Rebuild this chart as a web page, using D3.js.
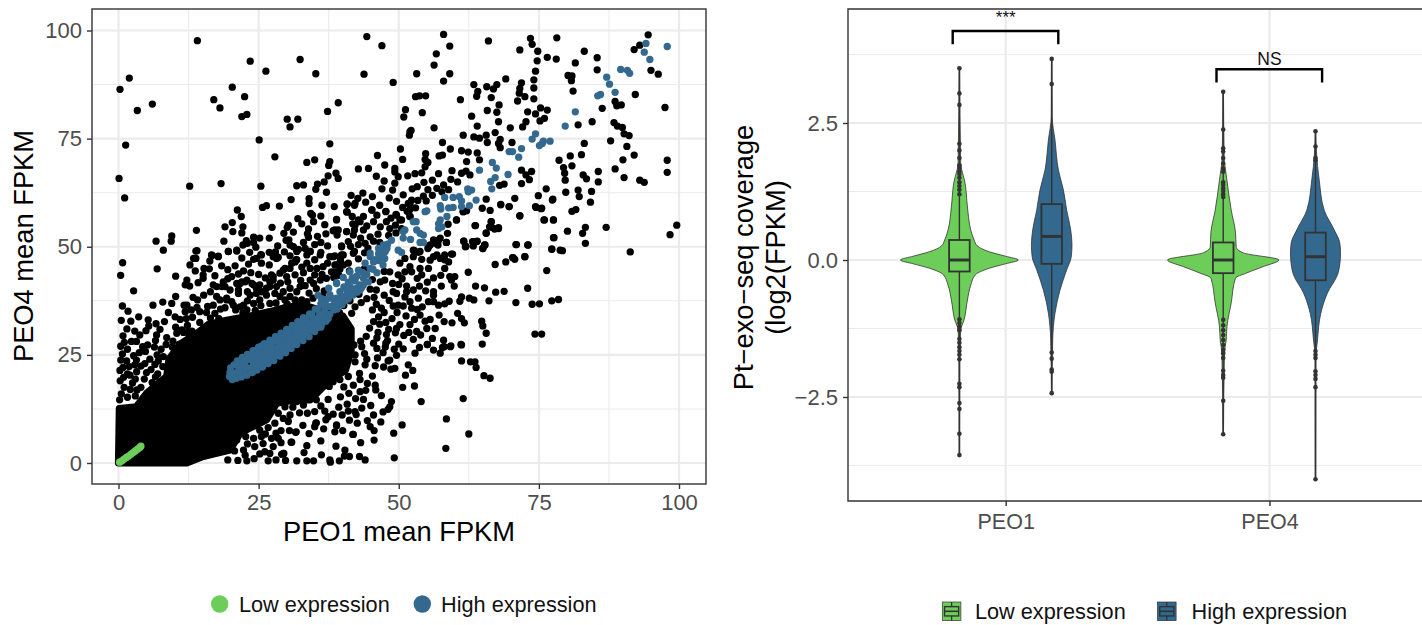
<!DOCTYPE html>
<html><head><meta charset="utf-8">
<script src="https://cdn.jsdelivr.net/npm/d3@7"></script>
<style>html,body{margin:0;padding:0;background:#fff;overflow:hidden}svg{display:block}text{font-family:"Liberation Sans",Arial,sans-serif}</style>
</head><body><svg id="c" width="1422" height="625"></svg>
<script>
const seriesNames=["Low expression","High expression"];
const groups=["PEO1","PEO4"];
const colorLow="#6CCE59", colorHigh="#33688F";
const scatterTicks=[0,25,50,75,100];
const scatterMinor=[12.5,37.5,62.5,87.5];
const violinTicks=[-2.5,0,2.5];
const violinMinor=[-3.75,-1.25,1.25,3.75];

// Solid region of the scatter where single points cannot be told apart: outline
const denseOutline=[[0,0],[0.15,12.6],[3.2,13],[5,16.1],[8.6,20],[9,24],[11,27.5],[14,30],[16,32],[19.3,33],[23.5,34],[27,35],[30,36],[33,36.5],[37,35],[40,34],[41.5,31],[41.5,26],[40.5,21.5],[37.1,18.4],[34.2,14.6],[31.5,14.6],[28.2,13.8],[26.4,10],[21.7,6.9],[19.9,3],[15.1,1.5],[12.2,0]];

const blackPoints=[
[44.3,98.6],[47,96.5],[58,99.1],[59.1,96.4],[56.7,94.6],[56.3,92],[43.8,89.9],[53.2,90],[59.1,90],[58,88.3],[49,88],[66,97.6],[73.5,98.2],[73.8,96.8],[78.2,98.3],[71.6,95.5],[74.8,95.2],[74.7,93],[76.5,93.8],[78.1,93.4],[83.1,95.2],[85.4,93.7],[81.5,92.5],[85.4,90.9],[74.4,90.6],[74.1,88.6],[74.1,86.7],[74.1,84.2],[69.1,88.8],[71.9,87.9],[71.6,86.6],[71.5,85.5],[72.5,84.7],[71.2,83.7],[67.5,87.5],[66.9,86.5],[65.7,87],[63.4,87.5],[64.1,85.9],[63.9,84.8],[66.5,84.5],[61,84],[54.8,84.9],[53.7,84.9],[53,84.7],[51.2,81.7],[50.9,80],[54.2,81],[67.9,82.8],[65.8,81.5],[67.5,81.1],[67.8,78.9],[63,80.2],[64,77.9],[56.3,77.5],[69.9,77.5],[72.1,77.7],[72.7,78.9],[73,81.2],[74.4,80.7],[75.3,82.1],[76.5,81.6],[76,79.7],[75.2,79.1],[80.2,89.6],[80.9,89.5],[80.8,88.4],[81.1,86],[82,78.2],[84.5,78.9],[86.3,82],[88.6,83.6],[88.9,82.6],[89.7,82.8],[92.2,85.2],[97.5,82.2],[94.5,99],[92,95.6],[93,96.6],[95,90.8],[96.3,89.9],[88.4,78.7],[89,77.9],[89.9,77.6],[90.2,76.1],[91.1,75.7],[87.8,74.5],[90.7,73.2],[92,71.2],[90,70.1],[88.6,68],[90.2,66],[93,65.4],[93.8,64.9],[97.9,70],[97.9,67.2],[99.6,55],[98.4,52.8],[91.3,48.8],[87,54.5],[83.3,54.5],[82.8,53.1],[83.3,50.8],[80.1,53.6],[77.7,52.1],[77.3,49.5],[79.2,49.1],[73.1,50.4],[71,50.5],[72.5,47.7],[70.4,47.5],[85.6,67.4],[85.6,65],[84.4,62.8],[84.2,60.3],[83.5,65.7],[82.9,66.6],[82,63.1],[82.2,61.6],[79.8,62.6],[79.7,65.4],[79.6,67],[79.4,68.3],[78.6,70],[80.9,68.7],[80.6,71],[82.6,71.3],[83.1,73.9],[81.6,58.6],[80.9,58.2],[77.5,61],[76.3,63.4],[74.9,61.8],[74.5,59.1],[75.4,58.8],[76,56.2],[77.6,56.2],[71.6,57.1],[70.7,61.2],[69.7,59.3],[68.2,59.7],[66.3,58.4],[64.9,58.9],[65.6,61],[68.8,64.5],[68,64.2],[71.9,64.6],[73.3,65.5],[72.7,66.6],[73.7,67.4],[71.9,67.7],[63.7,54.9],[66.5,55.8],[66.2,54.6],[67.1,54.1],[67.8,54.4],[65.6,53.2],[61.6,51.3],[63.2,51.2],[64,51.3],[62,50.1],[63.3,50.2],[65.4,50.4],[65,49.6],
[61.5,75.8],[63.4,75.4],[64.4,75.1],[65.6,75.8],[65.8,74.1],[67.2,76.4],[68.1,74.8],[67.8,73.9],[68.1,72.9],[70.2,74.1],[57.8,74.1],[59.2,72.6],[57.2,71],[57.8,71.2],[61.2,72.2],[62.4,71.9],[64,71.7],[64.4,70.1],[62.1,69.7],[52,76.6],[52.2,76.9],[51.9,75.8],[50.3,72.6],[46.2,71.1],[50.7,70.2],[47.5,68.9],[44.6,68.1],[49.3,68.1],[49.3,67.3],[49.9,66.2],[51.6,66.4],[54.8,71.5],[54.7,70.2],[55.2,69.5],[54.7,68.5],[54.1,67.1],[57.1,66.9],[59.5,67.6],[61.2,67],[62,67.5],[62.7,66.6],[56,65.4],[60.5,65],[58,64.3],[47.4,65.2],[47,63.4],[48.9,63.1],[48.3,61.3],[43.6,62.4],[52.4,63.4],[53.3,63.9],[54.4,61.7],[56,61.9],[56.8,63.5],[57.7,62.7],[52.3,60.8],[51.7,60],[52,58.6],[45.2,58.5],[47.7,58.2],[49.6,57.3],[48.6,56.6],[50.5,56.2],[52,57],[61.5,58.1],[62.1,58.3],[60.3,56.2],[58.8,55.2],[58.7,53.1],[58.5,51],[56.2,51.6],[57.4,52],[55.3,50],[57,50.4],[52.8,49.1],[53.8,48.9],[59.6,48.3],
[14.07,97.65],[1.93,89],[0.27,86.4],[3.36,81.5],[6.04,83],[23.5,92.9],[32.4,93.3],[26.3,90.6],[35.2,90],[20.3,86.9],[17,84],[18.1,82.1],[22.5,84.7],[22.9,80.6],[22,80.1],[39.2,83.3],[37.3,81.3],[30.1,79.5],[32,79.5],[30.6,77.7],[25.1,74.7],[1.28,73.5],[37.7,73.8],[27.9,70.8],[35,70.1],[33.6,69.5],[37.7,69.7],[37.5,68.8],[0.1,65.8],[12.7,64],[18.3,64.6],[25.4,64],[1.1,61.3],[42.8,68],[38.8,67],[37.4,66.4],[39.2,65.8],[36.7,65],[35.5,64.5],[35.2,63.3],[31.8,64.1],[33,64.3],[37.1,62.6],[41.5,61.9],[30.8,60.9],[34,61.1],[34,60],[40.8,59.8],[42.1,59.6],[38.5,59.3],[36.3,59.6],[28.7,59.4],[26.4,59.5],[25.7,59.1],[21.2,58.5],[21.9,57],[34.3,57.7],[34.6,57.3],[40.8,58],[38.9,56.2],[32,56.5],[32.7,55.3],[30.3,55],[30.1,54.5],[20.3,55.6],[19,54.6],[22.2,54.6],[20.4,53.5],[22,53.2],[13.9,53.8],[27.4,54.5],[29.5,53.1],[31.2,53.4],[33.9,54.1],[33.7,53],[33.9,52.2],[35.5,52.4],[38.3,53.7],[39.2,53.9],[39,52.7],[40.7,53.5],[42.1,53.9],[41.9,52.7],[41.8,55.3],[42.8,56.2],[9.5,52.5],[9.4,51.3],[6.7,51.3],[8,49.2],[18.8,51.3],[19.6,48.9],[21.1,49.2],[14,49.1],[16.7,48],[17.8,47.8],[22.8,51.4],[22.2,50.4],[23,50.8],[24.1,52.2],[25.2,52],[26.9,52],[24.1,51],[24.5,49.9],[25.4,48.2],[28.4,50.2],[30.4,51.6],[29.9,51.5],[30.6,50.4],[36.1,51],[39.8,50.2],[32.1,49.4],[33.3,49.6],[34.2,48.9],[36.1,48.7],[42.1,48.9],[38.6,47.9],[40.1,48.1],[13.4,47.3],[24.1,47.1],[28.2,47.3],[31.7,47],
[0.74,46.3],[0.38,43.4],[6.9,44.9],[10.2,43.2],[2.7,39.8],[10.2,38.5],[0.7,36.3],[1.7,35.1],[6.15,36.5],[5.3,33.1],[6.7,32.2],[5.4,31.7],[6.8,29.6],[6.6,28.3],[8.6,29],[3.2,28.1],[2.3,28.1],[1.04,27.9],[1.6,26.3],[4.8,25.8],[8,24.6],[1.45,23.6],[3.2,23.8],[5.6,24],[9.5,23.8],[4.7,23],[6.5,22.8],[0.26,21.4],[2.05,20.3],[3.24,21.1],[5,20.9],[10.1,33.8],[11,33.2],[12.3,31.8],[10.2,31.4],[10.4,30],[11.7,36.5],[12.2,36.5],[11.9,35],[13,35.4],[14,36],[14.5,35],[13.3,38.3],[14.1,37.7],[12.75,45.8],[13.8,47.3],[13.8,49],[15.25,45],[15.1,43.5],[15.1,42.7],[14.2,41.7],[12.2,42.3],[12.7,40.9],[11.9,41.2],[16.6,48.1],[17.8,47.7],[18.4,45.6],[19.6,48.9],[21.1,49],[20.2,43.1],[21.4,43.7],[18.7,41.9],[17.5,40.8],[18.4,40.8],[22.6,41.9],[21.7,41.5],[21.4,39.2],[21.4,40],[17.5,38.5],[18.1,37.7],[19.3,38.1],[20.2,37.3],[16.9,36.5],[17.2,34.6],[23.2,46],[24.6,47.3],[25.5,48.1],[25.5,46.2],[26.9,45.8],[28.5,47.6],[31.5,46.5],[29.4,44.6],[31.5,43.5],[30,43.1],[27.3,43.5],[27.6,42.3],[24.1,41.2],[26.4,40.4],
[40.8,59.9],[42.2,60],[40.7,58.1],[38.9,56.3],[45.2,58.5],[47.7,58.1],[49.5,57.5],[52,60],[52,57],[43.7,57],[43.1,55.8],[45.5,55.8],[46.7,54.6],[48.4,54.2],[50.2,56.2],[50.5,54.2],[38.6,53.9],[40.7,53.5],[42.2,55],[43.7,53.9],[44.9,52.3],[39.8,50],[44,50.8],[46.6,51],[38.3,47.7],[39.8,48.1],[41.9,48.5],[38.6,45.8],[38.6,44.2],[40.1,45.8],
[61.5,58.1],[60.3,56.2],[63.6,54.9],[66.5,55.8],[65.6,53.1],[67.8,54.2],[66.6,54.5],[68.2,59.8],[69.7,59.3],[71.6,57.2],[74.4,59.3],[75.5,58.9],[75.9,56.2],[77.6,56.2],[77.4,60.8],[77.6,52.1],[77.3,49.4],[70.9,50.5],[73,50.4],[67.2,45.9],[69.1,46.5],[70.3,47.5],[70.7,47.1],[72.5,47.7],[76.4,44.5],[62.4,44.1],[78.8,49.2],[61.6,51.3],[61.9,50],[63.2,51.2],[63.9,51.2],[65.3,50.4],[65,49.6],[59.4,48.3],[58.5,51],[56.5,50.8],[57.1,51.5],[55.6,50.4],[55.2,49.6],[56.8,48.1],[58.2,48.1],[58.2,47],[58.9,46.5],[55.6,46.9],[56.2,47.7],[58.2,45],[57.4,47.3],[52.6,49.2],[53.5,48.7],[54.1,47.1],[52.6,47.7],[51.1,47.3],[50.2,46.2],[52,45.4],[52.3,44.2],[51.1,44.2],[53.8,45],[55.3,45],[54.1,43.5],[56.2,42.8],[59.1,43.1],[60,43.1],[59.4,42.3],[59.9,40.9],[63.7,40.9],[65.3,40.5],[67.3,39.5],[68.8,39.7],[73,40.4],[48.4,44.2],[49.9,43.5],[46.7,41.9],[47.5,42.3],[46,40],[49,39.6],[49.6,39.2],[51.4,40.9],[51.4,39.6],[53.7,40.9],[52.6,40],[56.2,39.6],[56.2,38.8],[51.1,38.4],[53.5,38.1],[52,37.3],[50.8,36.3],[49.9,36.5],[49,36.3],[55.3,37.3],[56.2,37.3],[57.1,36.5],[58.2,36.8],[59,37.4],[61.2,38.4],[60.9,37.4],[62.6,38.1],[63.4,37.7],[66.1,37.5],[70.9,37.1],[73.8,36.7],[75.1,36.8],[77.3,37.5],[78.5,37.8],[52.3,35.8],[53.3,35.5],[53.8,34.2],[51.3,34],[47.4,34.8],[45.5,32.7],[46.6,32.1],[41.6,34.6],[55.6,33.2],[58.1,32.7],[59.5,32.4],[60.5,34.6],[61.2,33.4],[61.7,32.4],[64.8,32.8],[65,31.7],[65.6,30],[74.3,29.8],[75.5,29.8],[52,32],[50.2,32],[49.6,31.1],[47.8,29.7],[49.4,30.1],[53.2,30.4],[53.9,29.6],[55,31.1],[56.5,31.1],[56,28.8],[55.1,27.4],[58,28.4],[58.1,26.9],[59.2,26.9],[61.1,27.4],[64.9,27.5],
[45.5,27.7],[46.1,26.5],[47.2,25.5],[43.4,26.9],[42,27.3],[55.1,27.4],[56.2,26.1],[57.4,25.4],[57.8,26.7],[59.3,27.1],[61.2,27.3],[52.9,25.4],[48.4,23.8],[48.1,23.6],[51.7,22.7],[52.5,21.4],[51.2,20.3],[49.3,21.9],[48.6,21.7],[61.2,23.6],[62.8,23.4],[63.6,23.4],[63.8,22.1],[65.2,20.2],[66.3,19.6],[50.7,17.5],[52.8,17.8],[54,14.2],[61.5,14.9],[58.5,10.2],[62.5,6.7],[58.4,3.4],[49.1,6.9],[45.6,5.3],[49.2,1.2],[44.3,24],[44,22.7],[42.2,25],[42.2,23.4],[40.7,25],[39.2,23.8],[37.1,23.4],[45.3,20.1],[43,20.7],[43.1,19.3],[41,20],[39.5,19.3],[38.3,18.8],[45.8,18],[45.9,16.9],[41.9,18],[43.1,16.5],[41.1,16.1],[39.6,15.3],[37.4,14.7],[37.6,17.7],[46.9,15.6],[48.7,14.2],[48.4,13],[48.1,12.4],[45,13.3],[40.8,13.6],[41,12],[42.2,11.9],[42.4,11.2],[45.5,11.1],[44.4,9.8],[44.9,8.4],[45.6,7.5],[32.3,11.6],[33.7,11.5],[38.3,11.3],[37.4,10.7],[37,10],[35.3,9.3],[35,8.4],[38.9,8.6],[38.6,7.2],[41.8,6.6],[31.7,7.2],[30.8,4.8],[33.6,4],[33.1,2.4],[33.6,0.5],[31.8,0.5],[37.7,0.7],[37.8,0.2],[40.4,3],[40.3,1.6],[41.2,1.5],[43,1.5],[44,0.7],[24.2,1],[26.7,0.5],[28.1,0.7],[29.1,2],[29.5,2.2],[19.5,0.7],[22.6,1.8],[26.1,2.6],[27,2.2],[27.6,3.8],[27.3,5.7],[28.5,5.7],[24.3,3.8],[25.8,4.5],[22.3,3],[21.1,5.3],[18.7,4],[27.9,9.2],[29.4,10.3],[30.6,11.1],[30.3,9.6],[29.7,13],[28.5,11.5],[25.2,7.6],[23.8,8.8],[25.5,6.1],[41.9,6.6],[29.4,2.2],[30.9,4.8],[31.6,7.1],[35.2,9.2],[38.9,8.8],
[28.8,43.9],[29.7,45],[30.9,46.2],[31.8,47],[33.6,46.2],[34.2,45],[35.4,45],[36.5,45.4],[38,44.2],[38.9,45.8],[34.2,42.3],[34.8,41.5],[36,42.3],[37.1,42.7],[32.4,40.8],[31.8,39.6],[30.6,40.4],[29.4,39.6],[28.2,40.8],[27.6,43.1],[27,41.9],[25.2,41.2],[26.1,39.6],[24.6,39.2],[23.5,38.8],[22.3,36.5],[33.6,48.1],[36,48.1],[37.7,47.7],[34.2,48.9],[31.8,48.9],[30.6,45],[27.6,47.7],[33,44],[35,43.5],[32.5,42.2],[36.3,43.6],[44.3,38],[46,36.7],[47.6,26.8],[48,28.3],[50,27.5],[0.3,19],[1,17.5],[0.5,16],[1.6,15.2],[3,15.5],[4,17.5],[2.5,18.5]];

const blackPointsMid=[
[16.9,41.2],[19,40.8],[19.9,40],[21.1,41.5],[22,41.9],[22.9,42.3],[23.8,41.5],[24.6,40.4],[25.5,39.6],[26.4,38.8],[27,40.8],[27.9,39.2],[28.8,38.5],[29.7,37.7],[30.6,38.5],[31.5,37.7],[32.7,37.7],[19.3,37.7],[20.5,36.5],[21.7,36.1],[22.9,35.4],[24.1,36.9],[25.2,37.7],[15.9,36.2],[15.2,38.8],[16.4,39.6],[18.2,35.6],[13.2,33.7],[12.1,33.4],[11.3,30.8],[9.7,28.2],[10.8,27.4],[7.6,26.3],[6.4,26.8],[5.2,27.3],[7.1,23.6],[3.7,25.5],[2.7,24.8],[0.7,25.2],[0.4,23.8],[1.9,22.3],[4,22.4],[5.8,21.6],[7,20.6],[0.9,19.8],[4.6,19.4],[6,18.6],[2.1,17],[3.3,16.9],[0.2,14.6],[4.4,15],
[13.7,44.4],[16.2,44.9],[17.2,43.3],[19.5,44.7],[20.8,45.6],[22.3,44.4],[23.6,44],[25,43.6],[26.2,42.8],[28.9,41.6],[30.2,41.9],[33.3,41],[35.3,40.3],[36.7,39.8],[34,39.3],[36.4,38.6],[23,39.6],[19.5,42.6],[16.3,46.7],[22,47.4],[23.4,48.7],[26.9,48.7],[29.6,48.8],[30.6,47.9],[32.7,45.3],[35,47],[37.3,46.2],[39.6,46.9],[41,46.2],[42.8,47.2],[43.9,48.6],[41.2,44.4],[39.5,44.8],[38.4,42.9],[39.3,43.4],
[44.5,49.7],[42.8,50.5],[41,51.2],[45.5,51.3],[46.3,52.9],[43.2,52],[41.4,50.1],[37.3,50.2],[35,50.5],[33,51],[31.2,50],[28,48.8],[37,53],[36.8,55.1],[34.8,55.8],[36.1,57.1],[44.3,54.8],[41.7,57],[46.1,57.3],[47.8,55.8],[49.4,55],[48.2,52.6],[49.5,53.2],[51.5,58.2],[53,59],[53.4,60.7],[50.7,59.1],[46.6,59.6],[44.1,60.3],[42.7,61.2],[45.3,61.6],[49.6,60.5],[50.8,62],[54.9,60.6],[55.2,63.2],[58.9,63.2],[59.3,65.6],[49.3,64.7],[46,66.3],[52.9,66.9],[54.5,64.9],
[40.2,36.4],[39.4,34.8],[41.3,37.5],[42.9,39],[42.2,36.1],[43.3,37.1],[45.6,38.3],[47.4,38.8],[48.3,37.6],[45.3,35.4],[46.9,35.8],[44.9,40.2],[45.3,42.4],[43.8,44.8],[47.4,44.3],[48.9,41.5],[50,41.3],[50.6,42.6],[46.4,33.8],[44.8,31.2],[46.3,30.2],[47.7,32.5],[48.8,33.4],[49.7,34.8],[48.2,30.9],[50.9,29.5],[51.8,30.2],[46.1,28.9],[44.2,29.3],[47.7,27.7],[49.2,26.3],[50.8,26.4],[52.6,28.6],[53.7,26.7],[49.6,24.9],[46.2,24.3],[47.3,22.2],[45.8,22.5],[43.9,25.3],[43.2,28.2],[54.2,36.1],[54.7,32.8],[57.2,34.2],[52.8,33.2],[53.3,42.7],[55.1,41.8],[57.6,40.9],[57.5,43.4],[54.8,39.8],
[31.8,23.8],[33,22.3],[34.2,23.8],[35.9,25.4],[37.7,26.1],[39.5,25.4],[30,19.2],[31.2,20],[33,19.2],[35.3,20],[36.5,18.4],[32.4,16.1],[34.2,15.3],[35.3,14.6],[31.8,14.2],[29.7,15.3],[31.1,12.9],[33,13.4],[36.1,13.2],[36.8,12],[35,11.9],[39.3,12.9],[39.9,11.1],[43.4,12.7],[43.7,14.7],[42.3,14.9],[44.1,16.8],[44.4,18.4],[40.2,17.6],[42.6,9.2],[41.2,9.9],[40,7.5],[36.6,7.9],[34,6.8],[32.9,8.7],[30.5,7.5],[29,7.5],[28.1,6.9],[26.7,8.2],[26.2,6.7],[24.1,5.7],[22.7,6.1],[23,4.4],[20.7,2.8],[21.3,0.6],[22.9,0.5],[25.2,2.1],[29.8,0.6],[29,4.7],[36.1,5.1],[38.8,3.9],[36.2,1.9],[34.8,0.5],[39.4,0.5],[46.8,9.5],[47.2,11.8],[50.6,8.8],[43.2,4.7],
[0.4,27],[0.8,29.4],[2.9,30.5],[3.8,29.6],[4.9,30.6],[1.5,31],[0.5,33],[2.2,32.8],[3.6,33.8],[7.4,30.9],[8.2,32.7],[8.9,34.8],[9.5,36.9],[7.9,37.2],[4.3,26.9],[6.9,25],[7.9,22.3],[9.3,22],[10.1,26.4],[10.3,24.9],[11.6,30.2],[12.4,30.2],[9.6,26.8],[8.5,27.4],[3,19.4],[5.9,16.6],[7.2,17.9],[8,19],[2.9,22.7],[0.8,22.1],[1.6,20.6],[6.6,19.9],
[15.7,34.8],[16.4,33.5],[19,35.9],[20.9,35.4],[23,37.5],[25.4,36.4],[27,36.9],[28.1,37],[30.1,36.7],[32,36.8],[33.6,37.3],[34.7,38.1],[17.9,33.4],[14.5,32.5],[13.1,30.5],[22.2,34.7],[24.4,35.3]];

const blueCore=[
[19.8,20],[19.9,21],[20,22],[20.3,19.3],[20.6,22.7],[21,19.6],[21,20.9],[21.2,23.6],[21.5,21.9],[21.9,19.9],[22.1,24.4],[22.3,21],[22.5,23],[22.9,20.3],[23,25.1],[23.2,22],[23.5,23.9],[23.9,20.9],[24,26],[24.1,22.9],[24.4,24.9],[24.7,21.5],[25,26.8],[25.1,23.6],[25.4,25.6],[25.7,22.2],[26,27.6],[26.1,24.4],[26.4,26.2],[26.7,23],[27,28.4],[27.2,25.1],[27.4,27],[27.7,23.7],[28,29.2],[28.2,26],[28.5,27.9],[28.8,24.7],[29,30],[29.2,26.8],[29.5,28.8],[29.8,25.5],[30,30.9],[30.3,27.6],[30.5,29.7],[30.8,26.5],[31,31.8],[31.2,28.5],[31.6,30.6],[31.8,27.4],[32,32.7],[32.3,29.3],[32.6,31.5],[32.9,28.3],[33,33.6],[33.4,30.2],[33.7,32.4],[34,29.2],[34.1,34.5],[34.4,31.1],[34.8,33.3],[35,30.4],[35.1,35.6],[35.5,32],[35.9,34.3],[36.1,31.4],[36.1,36.8],[36.6,33],[36.8,35.4],[37,32.8],[37.1,37.8],[37.5,40.4],[37.7,34.4],[35.6,38.8],[38,38.1],[38.9,41.5],[36.2,38],[38.4,35.4],
[20.5,20.5],[21.5,20.4],[21.6,23.1],[22.6,22],[22.6,24],[23.6,21.4],[23.6,25],[24.6,24],[24.5,22.2],[24.5,26],[25.5,24.6],[25.5,27],[25.4,22.9],[26.5,25.2],[26.5,27.3],[26.4,23.7],[27.5,25.8],[27.5,28.2],[27.4,24.4],[28.5,26.6],[28.5,29],[28.4,25.1],[29.5,27.5],[29.5,29.9],[29.4,26],[30.5,28.4],[30.5,30.6],[30.4,26.9],[31.5,29.3],[31.5,31.6],[31.4,27.8],[32.5,30.3],[32.5,32.5],[32.4,28.8],[33.5,31.3],[33.5,33.4],[33.4,29.7],[34.5,32.2],[34.5,34.4],[34.4,30.7],[35.5,33.4],[35.5,35.6],[35.3,31.2],[36.5,34.5],[36.5,36.6],[36.3,32.2],[37.4,36.2],[37.7,38.9],[37.4,33.4],
[38.2,36.4],[38.6,37.2],[39,35.6],[39.4,37.8],[39.9,36.6],[40.2,38.5],[40.5,37.6],[40.9,39.2],[41,38],[41.5,39.7],[41.8,38.8],[42.3,40.3],[42.6,39.5],[43,41.2],[43.1,40],[43.7,41.2],[40.2,40.7],[41,41.8],[41.7,42.8],[42.5,43.2],[43.6,44],[44.3,43.6],[44.9,45],[45.4,44.8],[45.8,47],[46.4,46.8],[46.4,48.4],[46.8,48.6],[47.6,48.9],[48,50.6],[47.2,49.2]];
const blueSparse=[[97.9,96.3],[94.1,97],[93.8,95],[94.8,93.3],[89.6,91],[90.8,90.8],[91.2,90.1],[87.1,89.2],[87.6,87.6],[88.6,85.7],[86,85.2],[85.5,84.9],[81.5,81.2],[79.7,77.9],[74.4,76.1],[73.8,74.9],[77,74.4],[75.8,74.4],[75.6,73.9],[75.1,73.4],[71.9,72.7],[69.7,72],[70.3,72],[71.4,70.7],[66.7,69.5],[67.4,68.2],[64.4,67.7],[69.5,66.7],[67.2,66],[66.4,65.1],[66.6,63.4],[62.3,63.4],[63,63.1],[62.4,62.7],[63.8,60.8],[60.8,61.6],[59.7,61.4],[58.2,61.4],[61.2,60.6],[61.2,59.3],[62.6,59.5],[59.7,59.1],[58.9,59],[57.4,59.5],[57.5,58.7],[55,58.3],[54.7,58.1],[58.6,57],[57.4,56.2],[57.1,55.3],[57.7,54.6],[57.1,54.2],[53.1,55.8],[52.6,55.8],[50.8,53.5],[51.1,53.9],[53.2,53.9],[53.8,53.1],[54.4,52.7],[50.8,52],[52.1,51.7],[53.8,51],[54.4,51],[48.7,51.5],[47.3,50.4],[46.4,49.6],[47.9,49.6],[49.9,49.2],[50.5,48.7],[44.9,47.7],[47,47.7],[44,46.2],[45.5,46.5],[47.2,45.8],[46.1,44],[42.8,44.6],[41.3,44.2],[40.1,42.9],[43.7,42.7],[44.6,41.9],[38.9,41.7],[42.2,42.1],[41.3,40.8],[43.4,40.6],[39.5,39.6],[40.7,40],[38.9,38.1],[39.8,38.4],[38.6,35.8],[39.2,36.9],[41.9,40],[44.9,48.5],[46.9,47.7],[47.5,47.3]];
const greenPoints=[[0.2,0.2],[0.6,0.5],[1,0.9],[1.4,1.3],[1.8,1.6],[2.2,2],[2.6,2.4],[3,2.8],[3.4,3.2],[3.8,3.6],[4,3.9]];

// violin outlines: [log2 FPKM, relative density]
const vLowA=[[3.5,0.005],[1.77,0.022],[1.4,0.097],[0.97,0.136],[0.55,0.192],[0.365,0.249],[0.255,0.305],[0.15,0.508],[0.07,0.78],[0,1],[-0.07,0.78],[-0.15,0.508],[-0.27,0.271],[-0.46,0.192],[-0.73,0.136],[-1.09,0.08],[-1.28,0.022],[-1.73,0.008],[-3.56,0.005]];
const vHighA=[[3.67,0.005],[2.61,0.008],[2.19,0.056],[1.64,0.114],[1.28,0.198],[0.91,0.254],[0.55,0.322],[0.27,0.344],[0.05,0.33],[-0.18,0.254],[-0.55,0.14],[-0.97,0.056],[-1.46,0.017],[-2.43,0.005]];
const vLowB=[[3.07,0.005],[1.89,0.017],[1.46,0.063],[0.91,0.136],[0.51,0.208],[0.24,0.22],[0.13,0.339],[0,0.944],[-0.12,0.678],[-0.24,0.39],[-0.33,0.208],[-0.78,0.136],[-1.22,0.063],[-1.46,0.051],[-1.7,0.022],[-3.18,0.005]];
const vHighB=[[2.35,0.005],[1.95,0.017],[1.46,0.063],[0.91,0.147],[0.55,0.317],[0.31,0.412],[0.13,0.424],[0,0.419],[-0.27,0.373],[-0.6,0.203],[-0.97,0.09],[-1.46,0.034],[-1.77,0.008],[-4,0.005]];

// box stats: [Q1, median, Q3]
const boxLowA=[-0.21,0,0.365], boxHighA=[-0.07,0.43,1.02], boxLowB=[-0.24,0,0.32], boxHighB=[-0.37,0.06,0.5];
const outLowA=[3.5,3.04,2.83,2.12,2,1.86,1.73,1.68,1.62,1.57,1.5,1.42,1.35,1.28,1.2,-1.08,-1.15,-1.22,-1.28,-1.44,-1.51,-1.59,-1.66,-1.73,-1.81,-2.26,-2.32,-2.61,-2.72,-3.17,-3.56];
const outHighA=[3.67,3.21,-1.69,-1.8,-2,-2.04,-2.43];
const outLowB=[3.07,2.38,2.04,1.98,1.86,1.76,1.67,1.61,1.42,1.37,1.31,1.26,1.2,1.15,-1.09,-1.19,-1.28,-1.37,-1.46,-1.55,-1.64,-1.7,-1.79,-2.02,-2.1,-2.15,-2.57,-3.18];
const outHighB=[2.35,2.07,1.86,1.82,-1.66,-1.73,-1.79,-2.03,-2.1,-2.17,-2.32,-4];

const violins=[
 {g:"PEO1",s:0,shape:vLowA,box:boxLowA,out:outLowA},
 {g:"PEO1",s:1,shape:vHighA,box:boxHighA,out:outHighA},
 {g:"PEO4",s:0,shape:vLowB,box:boxLowB,out:outLowB},
 {g:"PEO4",s:1,shape:vHighB,box:boxHighB,out:outHighB}];
const signifLabels=["***","NS"];
const signifLevels=[4.18,3.48];
const signifDrop=0.243;

const svg=d3.select("#c");
const INK="#333333", TICKTXT="#4D4D4D", GRID="#EBEBEB";
const fill=[colorLow,colorHigh];

/* ---------- left panel ---------- */
const L={l:92,r:706,t:9,b:484};
const x=d3.scaleLinear().domain([0,100]).range([118.5,679]);
const y=d3.scaleLinear().domain([0,100]).range([463,30.5]);
const gL=svg.append("g");
gL.selectAll(".mnx").data(scatterMinor).join("line").attr("x1",d=>x(d)).attr("x2",d=>x(d)).attr("y1",L.t).attr("y2",L.b).attr("stroke",GRID).attr("stroke-width",1.1);
gL.selectAll(".mny").data(scatterMinor).join("line").attr("y1",d=>y(d)).attr("y2",d=>y(d)).attr("x1",L.l).attr("x2",L.r).attr("stroke",GRID).attr("stroke-width",1.1);
gL.selectAll(".mjx").data(scatterTicks).join("line").attr("x1",d=>x(d)).attr("x2",d=>x(d)).attr("y1",L.t).attr("y2",L.b).attr("stroke",GRID).attr("stroke-width",2.2);
gL.selectAll(".mjy").data(scatterTicks).join("line").attr("y1",d=>y(d)).attr("y2",d=>y(d)).attr("x1",L.l).attr("x2",L.r).attr("stroke",GRID).attr("stroke-width",2.2);
gL.append("path").datum(denseOutline).attr("d",d3.line().x(d=>x(d[0])).y(d=>y(d[1])).curve(d3.curveLinearClosed)).attr("fill","#000").attr("stroke","#000").attr("stroke-width",7.2).attr("stroke-linejoin","round");
const R0=3.65;
gL.selectAll(".b").data(blackPoints.concat(blackPointsMid)).join("circle").attr("cx",d=>x(d[0])).attr("cy",d=>y(d[1])).attr("r",R0).attr("fill","#000");
gL.selectAll(".h").data(blueCore.concat(blueSparse)).join("circle").attr("cx",d=>x(d[0])).attr("cy",d=>y(d[1])).attr("r",R0).attr("fill",colorHigh);
gL.selectAll(".g").data(greenPoints).join("circle").attr("cx",d=>x(d[0])).attr("cy",d=>y(d[1])).attr("r",R0).attr("fill",colorLow);
gL.append("rect").attr("x",L.l).attr("y",L.t).attr("width",L.r-L.l).attr("height",L.b-L.t).attr("fill","none").attr("stroke",INK).attr("stroke-width",1.4);

function styleAxis(g,size){
  g.select(".domain").remove();
  g.selectAll(".tick line").attr("stroke",INK).attr("stroke-width",1.4);
  g.selectAll(".tick text").attr("fill",TICKTXT).style("font-size",size+"px").style("font-family",'"Liberation Sans",Arial,sans-serif');
}
svg.append("g").attr("transform",`translate(0,${L.b})`).call(d3.axisBottom(x).tickValues(scatterTicks).tickSize(5).tickPadding(5)).call(styleAxis,22);
svg.append("g").attr("transform",`translate(${L.l},0)`).call(d3.axisLeft(y).tickValues(scatterTicks).tickSize(5).tickPadding(5)).call(styleAxis,22);
svg.append("text").attr("x",399).attr("y",541).attr("text-anchor","middle").style("font-size","27.3px").text("PEO1 mean FPKM");
svg.append("text").attr("transform","translate(33,246) rotate(-90)").attr("text-anchor","middle").style("font-size","27.3px").text("PEO4 mean FPKM");

/* ---------- right panel ---------- */
const P={l:848,r:1422,t:9,b:501};
const gx=d3.scalePoint().domain(groups).range([1005.7,1269.5]);
const dodge=d3.scaleOrdinal().domain([0,1]).range([-46.3,46]);
const vy=d3.scaleLinear().domain([-2.5,2.5]).range([397,123]);
const gR=svg.append("g");
gR.selectAll(".a").data(violinMinor).join("line").attr("y1",d=>vy(d)).attr("y2",d=>vy(d)).attr("x1",P.l).attr("x2",P.r).attr("stroke",GRID).attr("stroke-width",1.1);
gR.selectAll(".b").data(violinTicks).join("line").attr("y1",d=>vy(d)).attr("y2",d=>vy(d)).attr("x1",P.l).attr("x2",P.r).attr("stroke",GRID).attr("stroke-width",2.2);
gR.selectAll(".c").data(groups).join("line").attr("x1",d=>gx(d)).attr("x2",d=>gx(d)).attr("y1",P.t).attr("y2",P.b).attr("stroke",GRID).attr("stroke-width",2.2);
const widthScale=d3.scaleLinear().domain([0,1]).range([0,59]);
const boxHalf=10.3;
violins.forEach(v=>{
  const cx=gx(v.g)+dodge(v.s);
  const g=gR.append("g");
  const area=d3.area().y(d=>vy(d[0])).x0(d=>cx-widthScale(d[1])).x1(d=>cx+widthScale(d[1])).curve(d3.curveMonotoneY);
  g.append("path").datum(v.shape.slice().reverse()).attr("d",area).attr("fill",fill[v.s]).attr("stroke",INK).attr("stroke-width",0.8);
  const top=v.shape[0][0], bot=v.shape[v.shape.length-1][0];
  g.append("line").attr("x1",cx).attr("x2",cx).attr("y1",vy(top)).attr("y2",vy(bot)).attr("stroke",INK).attr("stroke-width",1.4);
  g.selectAll("circle").data(v.out).join("circle").attr("cx",cx).attr("cy",d=>vy(d)).attr("r",2.3).attr("fill",INK);
  g.append("rect").attr("x",cx-boxHalf).attr("width",2*boxHalf).attr("y",vy(v.box[2])).attr("height",vy(v.box[0])-vy(v.box[2])).attr("fill",fill[v.s]).attr("stroke",INK).attr("stroke-width",1.8);
  g.append("line").attr("x1",cx-boxHalf).attr("x2",cx+boxHalf).attr("y1",vy(v.box[1])).attr("y2",vy(v.box[1])).attr("stroke",INK).attr("stroke-width",3);
});
// significance brackets
signifLabels.forEach((lab,i)=>{
  const g0=gx(groups[i]);
  const a=g0-53, b=g0+52.6;
  const lev=signifLevels[i];
  svg.append("path").datum([[a,lev-signifDrop],[a,lev],[b,lev],[b,lev-signifDrop]])
    .attr("d",d3.line().x(d=>d[0]).y(d=>vy(d[1]))).attr("fill","none").attr("stroke","#000").attr("stroke-width",2.4);
  svg.append("text").attr("x",g0).attr("y",vy(lev)-(i==0?8:4)).attr("text-anchor","middle").style("font-size",i==0?"17px":"17.5px").attr("fill","#111").text(lab);
});
// frame: top, left and bottom
svg.append("path").attr("d",`M${P.r},${P.t}H${P.l}V${P.b}H${P.r}`).attr("fill","none").attr("stroke",INK).attr("stroke-width",1.4);
svg.append("g").attr("transform",`translate(0,${P.b})`).call(d3.axisBottom(gx).tickSize(5).tickPadding(8)).call(styleAxis,21.5);
svg.append("g").attr("transform",`translate(${P.l},0)`).call(d3.axisLeft(vy).tickValues(violinTicks).tickSize(5).tickPadding(5).tickFormat(d=>d===0?"0.0":d3.format(".1f")(d).replace("-","\u2212"))).call(styleAxis,22);
svg.append("text").attr("transform","translate(753,257.5) rotate(-90)").attr("text-anchor","middle").style("font-size","27.3px").text("Pt\u2212exo\u2212seq coverage");
svg.append("text").attr("transform","translate(785,257.5) rotate(-90)").attr("text-anchor","middle").style("font-size","27.3px").text("(log2(FPKM)");

/* ---------- legends ---------- */
const legL=d3.scaleOrdinal().domain([0,1]).range([219.7,422.3]);
const legLT=d3.scaleOrdinal().domain([0,1]).range([239,441]);
seriesNames.forEach((n,i)=>{
  svg.append("circle").attr("cx",legL(i)).attr("cy",604).attr("r",8.7).attr("fill",fill[i]);
  svg.append("text").attr("x",legLT(i)).attr("y",612).style("font-size","21.7px").attr("fill","#111").text(n);
});
const legR=d3.scaleOrdinal().domain([0,1]).range([942.3,1157.5]);
const legRT=d3.scaleOrdinal().domain([0,1]).range([975,1191.5]);
seriesNames.forEach((n,i)=>{
  const kx=legR(i), ky=602, k=18.6;
  const g=svg.append("g");
  g.append("rect").attr("x",kx).attr("y",ky).attr("width",k).attr("height",k).attr("fill",fill[i]).attr("stroke",INK).attr("stroke-width",0.7);
  g.append("line").attr("x1",kx+k/2).attr("x2",kx+k/2).attr("y1",ky).attr("y2",ky+k).attr("stroke",INK).attr("stroke-width",1.3);
  g.append("rect").attr("x",kx+k*0.12).attr("y",ky+k*0.25).attr("width",k*0.76).attr("height",k*0.5).attr("fill",fill[i]).attr("stroke",INK).attr("stroke-width",1.4);
  g.append("line").attr("x1",kx+k*0.12).attr("x2",kx+k*0.88).attr("y1",ky+k/2).attr("y2",ky+k/2).attr("stroke",INK).attr("stroke-width",1.6);
  svg.append("text").attr("x",legRT(i)).attr("y",619).style("font-size","21.7px").attr("fill","#111").text(n);
});
</script></body></html>
